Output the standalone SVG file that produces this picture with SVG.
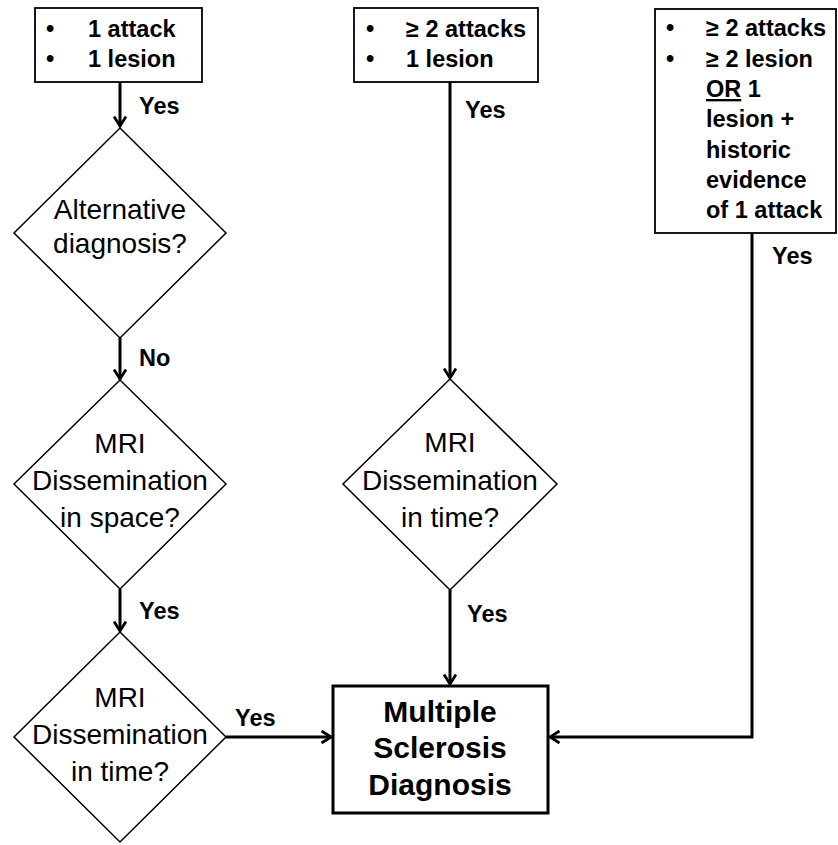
<svg xmlns="http://www.w3.org/2000/svg" width="838" height="845" viewBox="0 0 838 845">
<style>
.box{fill:#fff;stroke:#000;stroke-width:1.8}
.dia{fill:#fff;stroke:#000;stroke-width:1.5}
.ms{fill:#fff;stroke:#000;stroke-width:3}
.b{font-family:"Liberation Sans",Arial,sans-serif;font-weight:bold;font-size:23.5px;fill:#000}
.n{font-family:"Liberation Sans",Arial,sans-serif;font-size:28px;fill:#000;text-anchor:middle}
.big{font-family:"Liberation Sans",Arial,sans-serif;font-weight:bold;font-size:30px;fill:#000;text-anchor:middle}
.c{fill:none;stroke:#000;stroke-width:3}
</style>
<defs>
<marker id="ah" viewBox="0 0 14 14" refX="12.5" refY="7" markerWidth="14" markerHeight="14" markerUnits="userSpaceOnUse" orient="auto">
<path d="M3,1 L12.5,7 L3,13" fill="none" stroke="#000" stroke-width="2.8"/>
</marker>
</defs>
<g id="connectors">
<line class="c" x1="120" y1="82" x2="120" y2="126" marker-end="url(#ah)"/>
<line class="c" x1="120" y1="338" x2="120" y2="379" marker-end="url(#ah)"/>
<line class="c" x1="120" y1="589" x2="120" y2="631" marker-end="url(#ah)"/>
<line class="c" x1="226" y1="737" x2="331" y2="737" marker-end="url(#ah)"/>
<line class="c" x1="450" y1="82" x2="450" y2="378" marker-end="url(#ah)"/>
<line class="c" x1="450" y1="590" x2="450" y2="684" marker-end="url(#ah)"/>
<polyline class="c" points="752,233 752,737 550,737" marker-end="url(#ah)"/>
<text class="b" x="139" y="114">Yes</text>
<text class="b" x="139" y="366">No</text>
<text class="b" x="139" y="619">Yes</text>
<text class="b" x="235" y="726">Yes</text>
<text class="b" x="465" y="118">Yes</text>
<text class="b" x="467" y="622">Yes</text>
<text class="b" x="772" y="264">Yes</text>
</g>
<g id="box1">
<rect class="box" x="35" y="8" width="167" height="74"/>
<text class="b" x="46" y="37">•</text>
<text class="b" x="88" y="37">1 attack</text>
<text class="b" x="46" y="67">•</text>
<text class="b" x="88" y="67">1 lesion</text>
</g>
<g id="box2">
<rect class="box" x="354" y="8" width="184" height="74"/>
<text class="b" x="366" y="37">•</text>
<text class="b" x="406" y="37">≥ 2 attacks</text>
<text class="b" x="366" y="67">•</text>
<text class="b" x="406" y="67">1 lesion</text>
</g>
<g id="box3">
<rect class="box" x="655" y="9" width="181" height="224"/>
<text class="b" x="666" y="36">•</text>
<text class="b" x="706" y="36">≥ 2 attacks</text>
<text class="b" x="666" y="67">•</text>
<text class="b" x="706" y="67">≥ 2 lesion</text>
<text class="b" x="706" y="97"><tspan text-decoration="underline">OR</tspan> 1</text>
<text class="b" x="706" y="127">lesion +</text>
<text class="b" x="706" y="158">historic</text>
<text class="b" x="706" y="188">evidence</text>
<text class="b" x="706" y="218">of 1 attack</text>
</g>
<g id="alt">
<polygon class="dia" points="120,128 226,233 120,338 14,233"/>
<text class="n" x="120" y="219">Alternative</text>
<text class="n" x="120" y="253">diagnosis?</text>
</g>
<g id="space">
<polygon class="dia" points="120,380 226,484 120,589 14,484"/>
<text class="n" x="120" y="453">MRI</text>
<text class="n" x="120" y="490">Dissemination</text>
<text class="n" x="120" y="527">in space?</text>
</g>
<g id="time1">
<polygon class="dia" points="120,632 226,737 120,842 14,737"/>
<text class="n" x="120" y="707">MRI</text>
<text class="n" x="120" y="744">Dissemination</text>
<text class="n" x="120" y="781">in time?</text>
</g>
<g id="time2">
<polygon class="dia" points="450,379 557,484 450,590 343,484"/>
<text class="n" x="450" y="452">MRI</text>
<text class="n" x="450" y="490">Dissemination</text>
<text class="n" x="450" y="527">in time?</text>
</g>
<g id="ms">
<rect class="ms" x="333" y="686" width="215" height="127"/>
<text class="big" x="440" y="722">Multiple</text>
<text class="big" x="440" y="758">Sclerosis</text>
<text class="big" x="440" y="795">Diagnosis</text>
</g>
</svg>
